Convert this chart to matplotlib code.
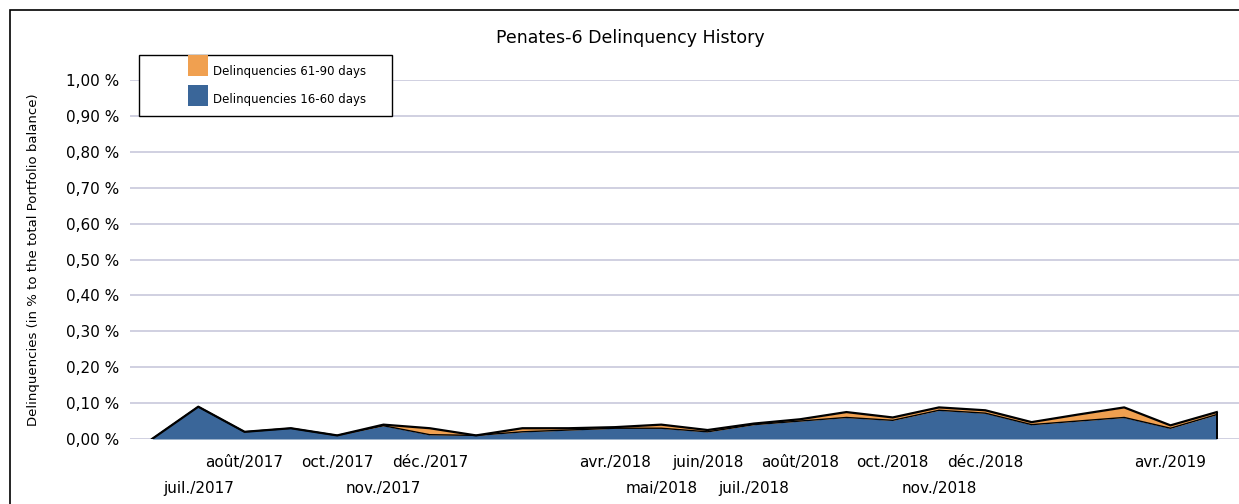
import matplotlib.pyplot as plt
from matplotlib.patches import Rectangle

# mois de juin/2017 à mai/2019
months = ["juin/2017", "juil./2017", "août/2017", "sept./2017", "oct./2017", "nov./2017",
          "déc./2017", "janv./2018", "févr./2018", "mars/2018", "avr./2018", "mai/2018",
          "juin/2018", "juil./2018", "août/2018", "sept./2018", "oct./2018", "nov./2018",
          "déc./2018", "janv./2019", "févr./2019", "mars/2019", "avr./2019", "mai/2019"]

# en % du portefeuille
d16_60 = [0.00, 0.09, 0.02, 0.03, 0.01, 0.037, 0.012, 0.01, 0.02, 0.025, 0.03, 0.03,
          0.02, 0.04, 0.05, 0.06, 0.052, 0.08, 0.072, 0.04, 0.05, 0.06, 0.03, 0.068]
d61_90 = [0.00, 0.00, 0.00, 0.00, 0.00, 0.003, 0.018, 0.00, 0.01, 0.005, 0.003, 0.01,
          0.005, 0.003, 0.005, 0.015, 0.008, 0.008, 0.008, 0.007, 0.018, 0.028, 0.008, 0.007]

labels_row1 = {2: "août/2017", 4: "oct./2017", 6: "déc./2017", 10: "avr./2018", 12: "juin/2018",
               14: "août/2018", 16: "oct./2018", 18: "déc./2018", 22: "avr./2019"}
labels_row2 = {1: "juil./2017", 5: "nov./2017", 11: "mai/2018", 13: "juil./2018", 17: "nov./2018"}

blue = "#3a6699"
orange = "#f0a050"

x = list(range(len(months)))
top = [a + b for a, b in zip(d16_60, d61_90)]

W, H = 1239, 504
fig = plt.figure(figsize=(W / 100, H / 100), dpi=100)
ax = fig.add_axes([130 / W, 65 / H, 1109 / W, 359 / H])

ax.fill_between(x, 0, d16_60, color=blue, linewidth=0)
ax.fill_between(x, d16_60, top, color=orange, linewidth=0)
ax.plot(x, top, color="black", linewidth=1.6)
ax.plot(x, d16_60, color="black", linewidth=1.0)
ax.vlines(x[-1], 0, top[-1], color="black", linewidth=1.4)

ax.set_xlim(-0.475, 23.48)
ax.set_ylim(0, 1.0)
yt = [i / 10 for i in range(11)]
ax.set_yticks(yt)
ax.set_yticklabels([f"{v:.2f}".replace(".", ",") + " %" for v in yt], fontsize=11)
ax.tick_params(axis="y", length=0, pad=8)
ax.set_xticks([])
for s in ax.spines.values():
    s.set_visible(False)
ax.grid(axis="y", color="#c8c8dc", linewidth=1.2)
ax.set_axisbelow(True)

for i, lab in labels_row1.items():
    ax.annotate(lab, (i, 0), xytext=(0, -17), textcoords="offset points",
                ha="center", va="center", fontsize=11, annotation_clip=False)
for i, lab in labels_row2.items():
    ax.annotate(lab, (i, 0), xytext=(0, -36), textcoords="offset points",
                ha="center", va="center", fontsize=11, annotation_clip=False)

ax.set_ylabel("Delinquencies (in % to the total Portfolio balance)", fontsize=9.5)
ax.yaxis.set_label_coords(-0.081, 0.5)

fig.text(630 / W, 1 - 38 / H, "Penates-6 Delinquency History", ha="center", va="center", fontsize=12.5)

# légende dessinée à la main
fig.patches.append(Rectangle((139 / W, 1 - 116 / H), 253 / W, 61 / H, transform=fig.transFigure,
                             facecolor="white", edgecolor="black", linewidth=1.0, zorder=5))
fig.patches.append(Rectangle((188 / W, 1 - 76 / H), 20 / W, 21 / H, transform=fig.transFigure,
                             facecolor=orange, edgecolor="none", zorder=6))
fig.patches.append(Rectangle((188 / W, 1 - 106 / H), 20 / W, 21 / H, transform=fig.transFigure,
                             facecolor=blue, edgecolor="none", zorder=6))
fig.text(213 / W, 1 - 71 / H, "Delinquencies 61-90 days", va="center", fontsize=8.5, zorder=7)
fig.text(213 / W, 1 - 100 / H, "Delinquencies 16-60 days", va="center", fontsize=8.5, zorder=7)

fig.patches.append(Rectangle((10 / W, -0.1), 1.1, 1 - 10 / H + 0.1, transform=fig.transFigure,
                             fill=False, edgecolor="black", linewidth=1.2))

fig.savefig("out.png", dpi=100)
